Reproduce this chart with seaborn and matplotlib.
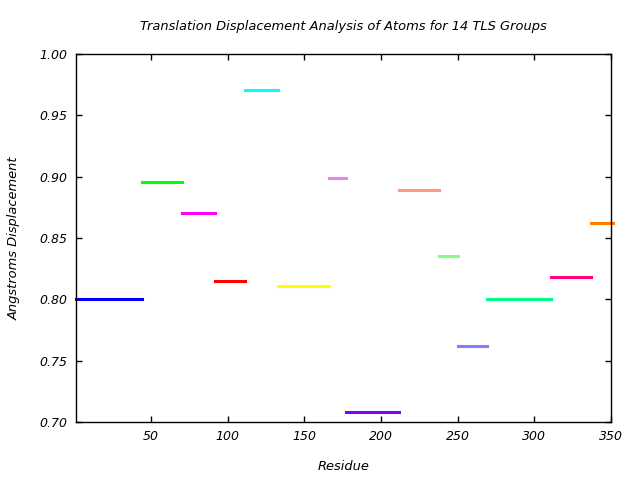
import matplotlib
matplotlib.use("Agg")
import matplotlib.pyplot as plt
import seaborn as sns
import pandas as pd

# TLS group residue ranges and mean translation displacement
group_start = [1, 44, 70, 92, 111, 133, 166, 177, 212, 238, 250, 269, 311, 337]
group_end = [44, 70, 92, 111, 133, 166, 177, 212, 238, 250, 269, 311, 337, 351]
displacement = [0.800, 0.896, 0.870, 0.815, 0.971, 0.811, 0.899, 0.708,
                0.889, 0.835, 0.762, 0.800, 0.818, 0.862]
group_colors = ["#0000ff", "#00ff00", "#ff00ff", "#ff0000", "#00ffff", "#ffff00",
                "#f080f0", "#8000ff", "#ff9980", "#80ff80", "#8080ff", "#00ff80",
                "#ff0080", "#ff8000"]
x_ticks = [50, 100, 150, 200, 250, 300, 350]
y_ticks = [0.70, 0.75, 0.80, 0.85, 0.90, 0.95, 1.00]

rows = []
for i, (s, e, d) in enumerate(zip(group_start, group_end, displacement)):
    rows.append({"group": i, "residue": s, "disp": d})
    rows.append({"group": i, "residue": e, "disp": d})
df = pd.DataFrame(rows)

sns.set_style("white")
plt.rcParams["font.family"] = ["DejaVu Sans"]
plt.rcParams["text.color"] = "black"

fig = plt.figure(figsize=(6.4, 4.8), dpi=100)
ax = fig.add_axes([76 / 640, 1 - 422 / 480, (611 - 76) / 640, (422 - 54) / 480])

sns.lineplot(data=df, x="residue", y="disp", hue="group", palette=group_colors,
             estimator=None, legend=False, linewidth=2.2, ax=ax)
for ln in ax.get_lines():
    ln.set_solid_capstyle("projecting")
    ln.set_clip_on(False)

ax.set_xlim(1, 350)
ax.set_ylim(0.70, 1.00)
ax.set_xticks(x_ticks)
ax.set_yticks(y_ticks)
ax.set_xticklabels([str(t) for t in x_ticks], fontstyle="italic", fontsize=9)
ax.set_yticklabels([f"{t:.2f}" for t in y_ticks], fontstyle="italic", fontsize=9)
ax.tick_params(direction="in", length=4.5, width=1, top=True, right=True,
               bottom=True, left=True, colors="black", labelcolor="black", pad=6)
for sp in ax.spines.values():
    sp.set_color("black")
    sp.set_linewidth(1)

ax.set_xlabel("Residue", fontstyle="italic", fontsize=9.4, labelpad=12, color="black")
ax.set_ylabel("Angstroms Displacement", fontstyle="italic", fontsize=9.4,
              labelpad=14, color="black")
ax.set_title("Translation Displacement Analysis of Atoms for 14 TLS Groups",
             fontstyle="italic", fontsize=9.4, pad=17, color="black")

fig.savefig("out.png", dpi=100)
